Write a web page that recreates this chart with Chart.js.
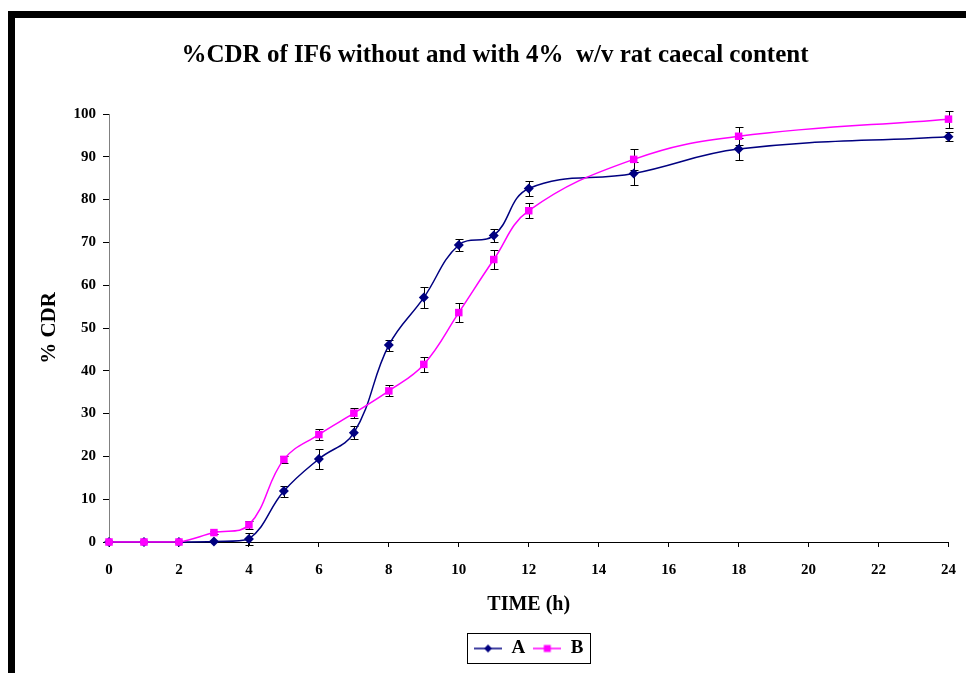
<!DOCTYPE html>
<html>
<head>
<meta charset="utf-8">
<script src="https://cdn.jsdelivr.net/npm/chart.js@4.4.1/dist/chart.umd.min.js"></script>
<style>
  html, body { margin: 0; padding: 0; background: #fff; }
  #wrap { position: relative; width: 966px; height: 673px; }
</style>
</head>
<body>
<div id="wrap"><canvas id="c" width="966" height="673"></canvas></div>
<script>
const titleText = '%CDR of IF6 without and with 4%  w/v rat caecal content';
const timeH = [0, 1, 2, 3, 4, 5, 6, 7, 8, 9, 10, 11, 12, 15, 18, 24];
const seriesA = [0, 0, 0, 0.1, 0.7, 11.9, 19.4, 25.5, 46.0, 57.1, 69.4, 71.6, 82.6, 86.1, 91.8, 94.7];
const errA    = [0, 0, 0, 0.2, 1.4, 1.3, 2.4, 1.5, 1.3, 2.5, 1.4, 1.45, 1.75, 2.8, 2.5, 1.0];
const seriesB = [0, 0, 0, 2.2, 4.0, 19.3, 25.1, 30.1, 35.3, 41.5, 53.6, 66.0, 77.4, 89.4, 94.8, 98.8];
const errB    = [0, 0, 0, 0.3, 1.0, 0.9, 1.25, 1.2, 1.3, 1.8, 2.3, 2.2, 1.75, 2.5, 2.1, 2.0];
const labelA = 'A';
const labelB = 'B';
const xTitle = 'TIME (h)';
const yTitle = '% CDR';

const navy = '#000080';
const magenta = '#FF00FF';
const FONT = "'Liberation Serif', 'Times New Roman', serif";

function legendIcon(color, style) {
  const cv = document.createElement('canvas');
  cv.width = 28; cv.height = 12;
  const g = cv.getContext('2d');
  g.strokeStyle = color; g.lineWidth = 1.5;
  g.beginPath(); g.moveTo(0, 6); g.lineTo(28, 6); g.stroke();
  g.fillStyle = color;
  if (style === 'diamond') {
    g.beginPath(); g.moveTo(14, 2); g.lineTo(18, 6); g.lineTo(14, 10); g.lineTo(10, 6); g.closePath(); g.fill();
  } else {
    g.fillRect(10.5, 2.5, 7, 7);
  }
  return cv;
}
const iconA = legendIcon(navy, 'diamond');
const iconB = legendIcon(magenta, 'square');

const toXY = (xs, ys) => xs.map((x, i) => ({ x: x, y: ys[i] }));

function legendBounds(lg) {
  const hb = lg.legendHitBoxes;
  let l = Infinity, r = -Infinity, t = Infinity, b = -Infinity;
  hb.forEach(h => { l = Math.min(l, h.left); r = Math.max(r, h.left + h.width); t = Math.min(t, h.top); b = Math.max(b, h.top + h.height); });
  return { l, r, t, b };
}

const frame = {
  id: 'frame',
  afterUpdate(chart) {
    const lg = chart.legend;
    if (!lg || !lg.legendHitBoxes || !lg.legendHitBoxes.length) return;
    const bb = legendBounds(lg);
    const target = (chart.chartArea.left + chart.chartArea.right) / 2;
    const dx = target - (bb.l + bb.r) / 2;
    lg.left += dx; lg.right += dx;
    lg.legendHitBoxes.forEach(h => { h.left += dx; });
  },
  beforeDraw(chart) {
    const c = chart.ctx;
    c.save();
    c.fillStyle = '#fff';
    c.fillRect(0, 0, chart.width, chart.height);
    c.fillStyle = '#000';
    c.fillRect(8, 11, chart.width - 8, 7);
    c.fillRect(8, 11, 7, chart.height - 11);
    c.restore();
  },
  afterDraw(chart) {
    const lg = chart.legend;
    if (!lg || !lg.legendHitBoxes || !lg.legendHitBoxes.length) return;
    const bb = legendBounds(lg);
    const c = chart.ctx;
    c.save();
    c.strokeStyle = '#000'; c.lineWidth = 1;
    c.strokeRect(Math.round(bb.l - 7) + 0.5, Math.round(bb.t - 6) + 0.5, Math.round(bb.r - bb.l + 14), Math.round(bb.b - bb.t + 11));
    c.restore();
  }
};

const errorBars = {
  id: 'errorBars',
  beforeDatasetsDraw(chart) {
    const c = chart.ctx;
    const xs = chart.scales.x, ys = chart.scales.y;
    const errs = [errA, errB];
    const vals = [seriesA, seriesB];
    c.save();
    c.strokeStyle = '#000'; c.lineWidth = 1;
    for (let d = 0; d < 2; d++) {
      timeH.forEach((t, i) => {
        const e = errs[d][i];
        if (!e || e < 0.25) return;
        const px = Math.round(xs.getPixelForValue(t)) + 0.5;
        const yt = Math.round(ys.getPixelForValue(vals[d][i] + e)) + 0.5;
        const yb = Math.round(ys.getPixelForValue(vals[d][i] - e)) + 0.5;
        c.beginPath();
        c.moveTo(px, yt); c.lineTo(px, yb);
        c.moveTo(px - 4, yt); c.lineTo(px + 4, yt);
        c.moveTo(px - 4, yb); c.lineTo(px + 4, yb);
        c.stroke();
      });
    }
    c.restore();
  }
};

new Chart(document.getElementById('c'), {
  type: 'line',
  data: {
    datasets: [
      {
        label: labelA, data: toXY(timeH, seriesA), order: 1,
        borderColor: navy, backgroundColor: navy, borderWidth: 1.5,
        pointStyle: 'rectRot', pointRadius: 5, pointBackgroundColor: navy, pointBorderColor: navy, pointBorderWidth: 0,
        tension: 0.4, fill: false, clip: false
      },
      {
        label: labelB, data: toXY(timeH, seriesB), order: 0,
        borderColor: magenta, backgroundColor: magenta, borderWidth: 1.5,
        pointStyle: 'rect', pointRadius: 5.3, pointBackgroundColor: magenta, pointBorderColor: magenta, pointBorderWidth: 0,
        tension: 0.4, fill: false, clip: false
      }
    ]
  },
  options: {
    responsive: false,
    animation: false,
    devicePixelRatio: 1,
    layout: { padding: { left: 37, right: 13, top: 0, bottom: 5 } },
    plugins: {
      title: {
        display: true, text: titleText, color: '#000',
        font: { family: FONT, size: 25, weight: 'bold' },
        padding: { top: 41, bottom: 43 }
      },
      legend: {
        display: true, position: 'bottom',
        labels: {
          color: '#000', font: { family: FONT, size: 19, weight: 'bold' },
          usePointStyle: true, pointStyleWidth: 28, padding: 8,
          generateLabels: (chart) => [
            { text: labelA, pointStyle: iconA, fillStyle: navy, strokeStyle: navy, lineWidth: 0, datasetIndex: 0, fontColor: '#000' },
            { text: labelB, pointStyle: iconB, fillStyle: magenta, strokeStyle: magenta, lineWidth: 0, datasetIndex: 1, fontColor: '#000' }
          ]
        }
      },
      tooltip: { enabled: false }
    },
    scales: {
      x: {
        type: 'linear', min: 0, max: 24,
        ticks: { stepSize: 2, color: '#000', font: { family: FONT, size: 15, weight: 'bold', lineHeight: 1.75 }, padding: 10, maxRotation: 0 },
        grid: { display: true, drawOnChartArea: false, drawTicks: true, tickLength: 5, color: '#000' },
        border: { display: true, color: '#000', width: 1 },
        title: { display: true, text: xTitle, color: '#000', font: { family: FONT, size: 20, weight: 'bold' }, padding: { top: 8, bottom: 14 } },
        afterFit: (s) => { s.height = 89; }
      },
      y: {
        type: 'linear', min: 0, max: 100,
        ticks: { stepSize: 10, color: '#000', font: { family: FONT, size: 15, weight: 'bold' }, padding: 7 },
        grid: { display: true, drawOnChartArea: false, drawTicks: true, tickLength: 6, color: '#000' },
        border: { display: true, color: '#808080', width: 1 },
        title: { display: true, text: yTitle, color: '#000', font: { family: FONT, size: 21, weight: 'bold' }, padding: { top: 0, bottom: 10 } },
        afterFit: (s) => { s.width = 72; }
      }
    }
  },
  plugins: [frame, errorBars]
});
</script>
</body>
</html>
